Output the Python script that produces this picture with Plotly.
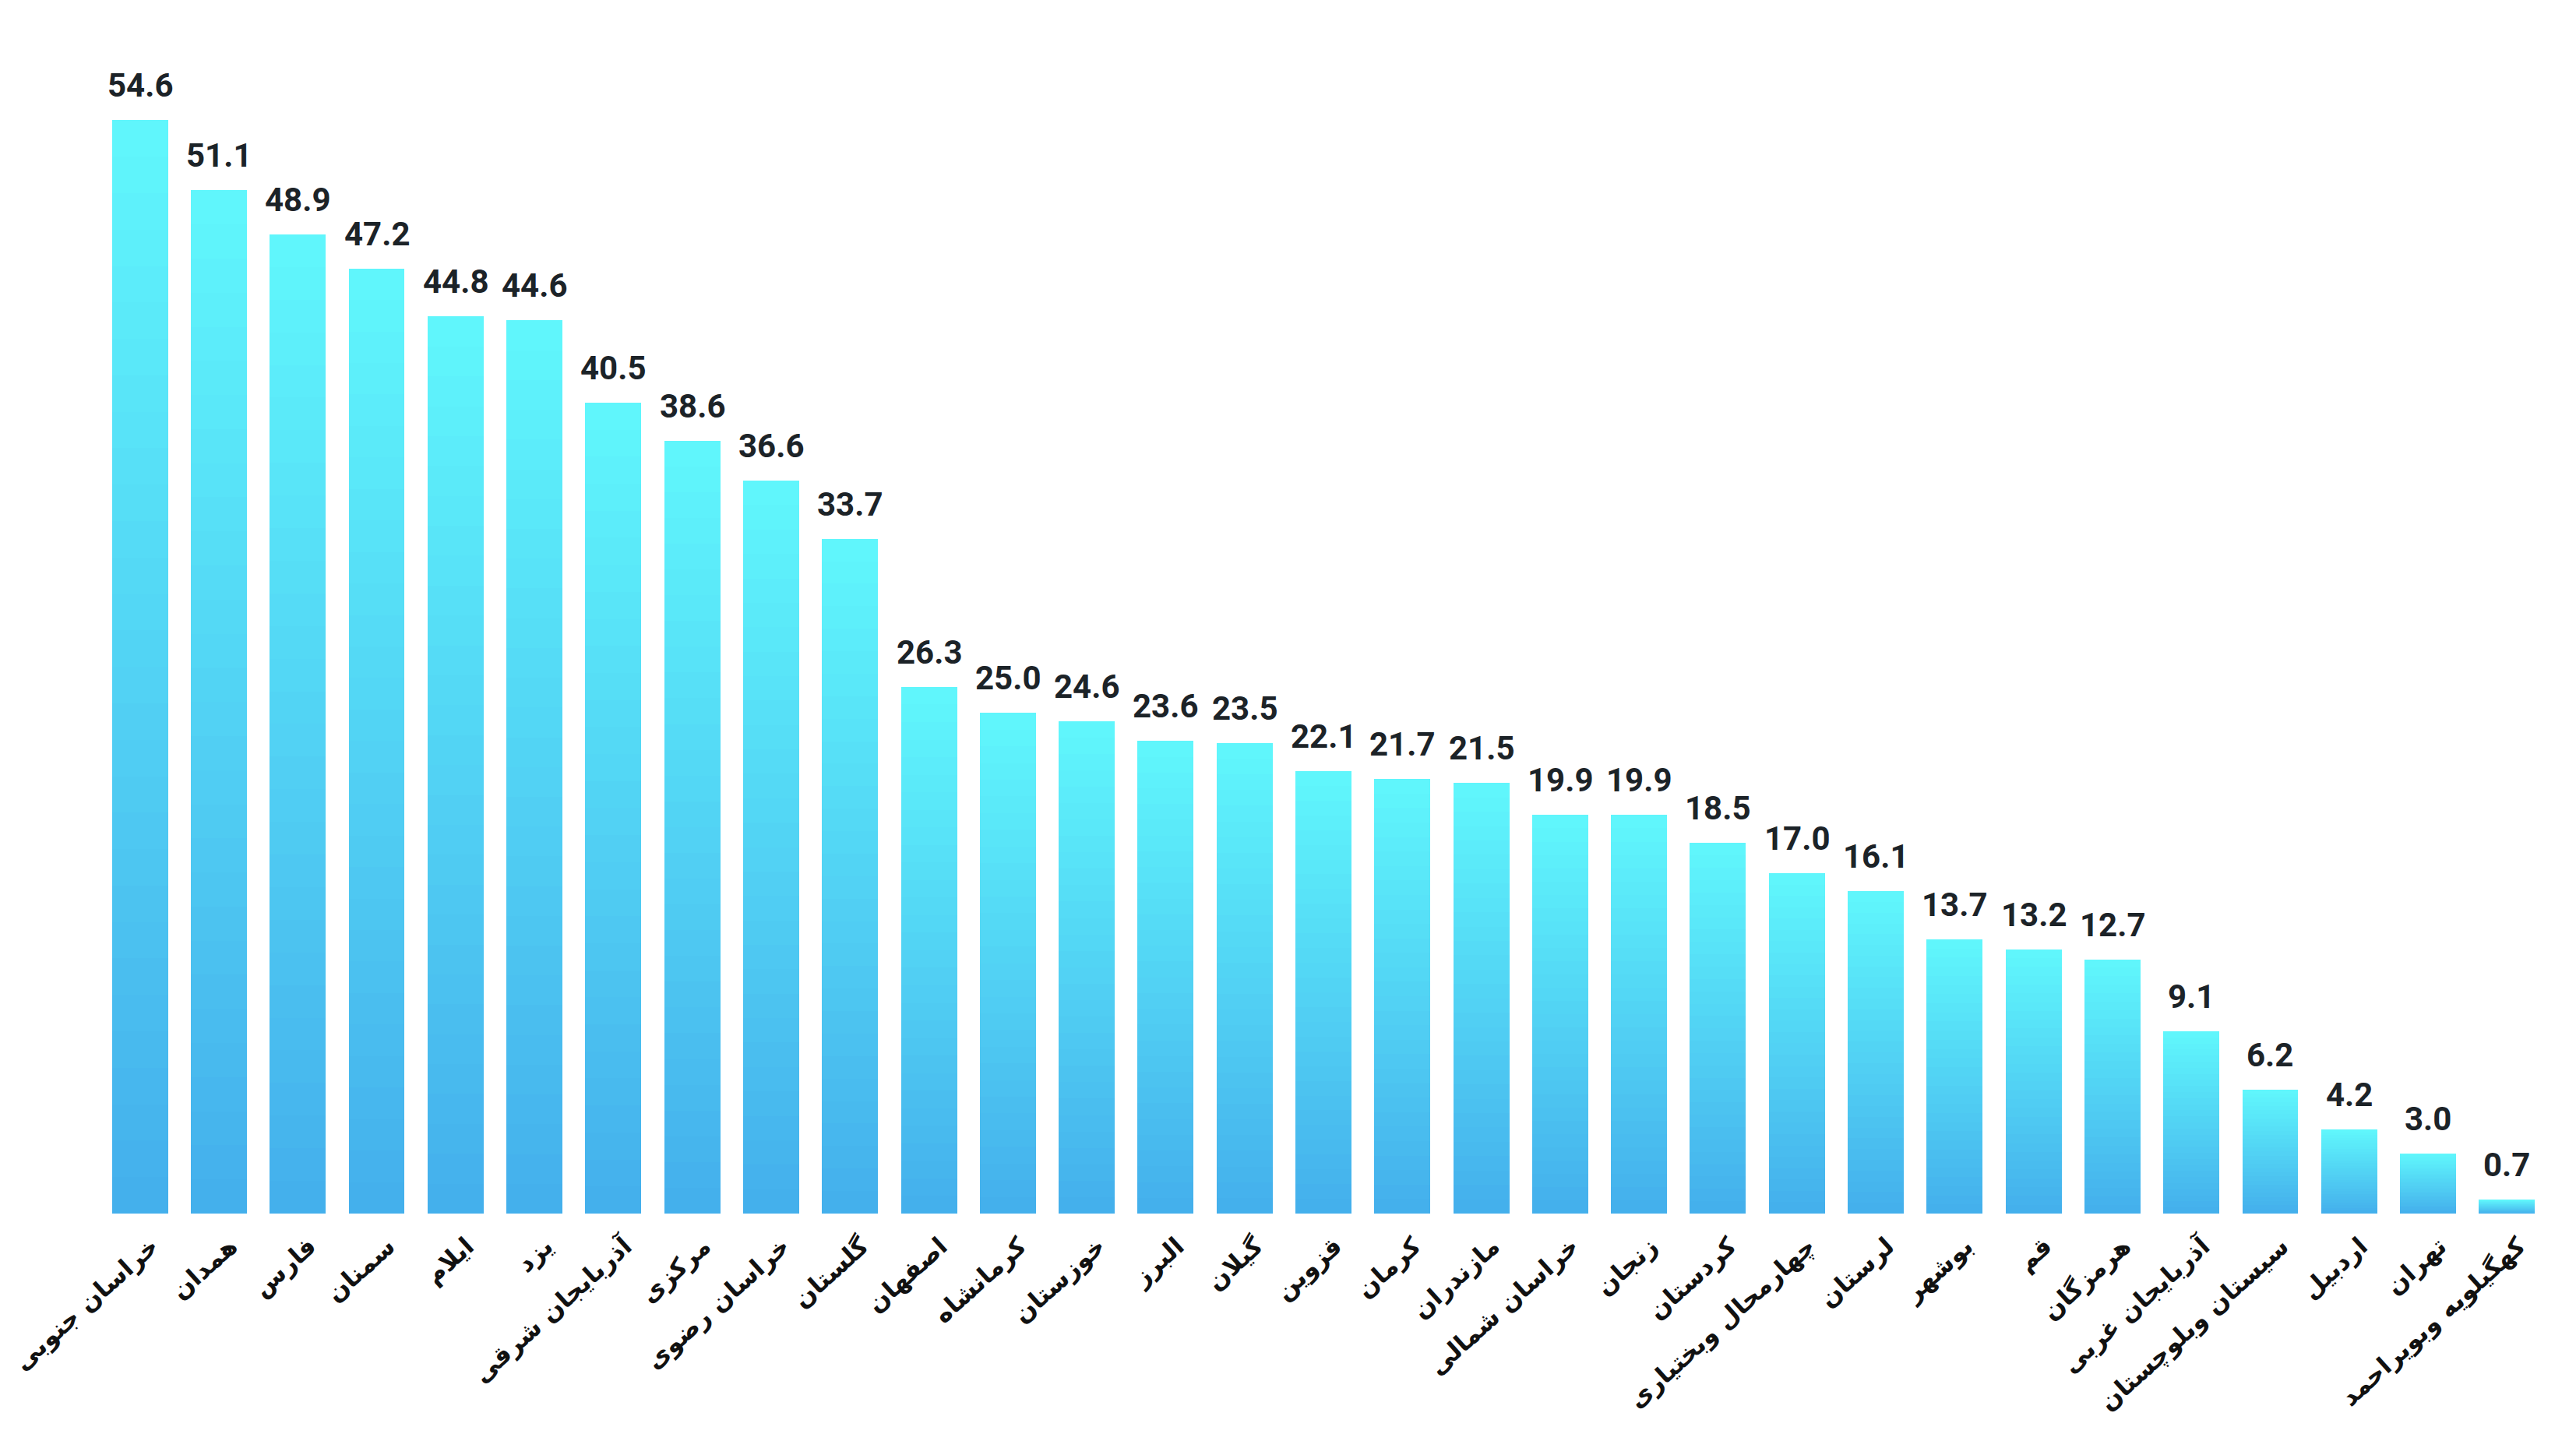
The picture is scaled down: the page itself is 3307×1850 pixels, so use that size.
import plotly.graph_objects as go

provinces = [
    "خراسان جنوبی", "همدان", "فارس", "سمنان", "ایلام", "یزد", "آذربایجان شرقی",
    "مرکزی", "خراسان رضوی", "گلستان", "اصفهان", "کرمانشاه", "خوزستان", "البرز",
    "گیلان", "قزوین", "کرمان", "مازندران", "خراسان شمالی", "زنجان", "کردستان",
    "چهارمحال وبختیاری", "لرستان", "بوشهر", "قم", "هرمزگان", "آذربایجان غربی",
    "سیستان وبلوچستان", "اردبیل", "تهران", "کهگیلویه وبویراحمد",
]
values = [
    54.6, 51.1, 48.9, 47.2, 44.8, 44.6, 40.5, 38.6, 36.6, 33.7, 26.3, 25.0, 24.6,
    23.6, 23.5, 22.1, 21.7, 21.5, 19.9, 19.9, 18.5, 17.0, 16.1, 13.7, 13.2, 12.7,
    9.1, 6.2, 4.2, 3.0, 0.7,
]

# vertical gradient per bar: stack thin slices, blue at the base -> cyan at the top
n_steps = 30
bottom_rgb = (68, 176, 236)
top_rgb = (96, 246, 252)


def mix(t):
    r, g, b = (round(bottom_rgb[i] + (top_rgb[i] - bottom_rgb[i]) * t) for i in range(3))
    return f"rgb({r},{g},{b})"


fig = go.Figure()
for k in range(n_steps):
    fig.add_trace(go.Bar(
        x=provinces,
        y=[v / n_steps for v in values],
        marker=dict(color=mix(k / (n_steps - 1)), line=dict(width=0)),
        showlegend=False,
        hoverinfo="skip",
    ))

for name, v in zip(provinces, values):
    fig.add_annotation(
        x=name, y=v, text=f"{v:.1f}", showarrow=False,
        yanchor="bottom", yshift=18,
        font=dict(family="Liberation Sans Narrow, Roboto, Arial", size=42,
                  color="#1c2328", weight="bold"),
    )

fig.update_layout(
    width=3307, height=1850,
    barmode="stack", bargap=0.29,
    plot_bgcolor="white", paper_bgcolor="white",
    margin=dict(l=121, r=46, t=59, b=300),
    xaxis=dict(
        tickangle=-42, showgrid=False, showline=False, ticks="",
        automargin=False, ticklabelstandoff=16, ticklabelshift=15,
        tickfont=dict(family="DejaVu Sans", size=32, color="#111111", weight="bold"),
    ),
    yaxis=dict(range=[0, 58], visible=False, showgrid=False, zeroline=False,
               automargin=False),
)

fig.write_html("out.html")
